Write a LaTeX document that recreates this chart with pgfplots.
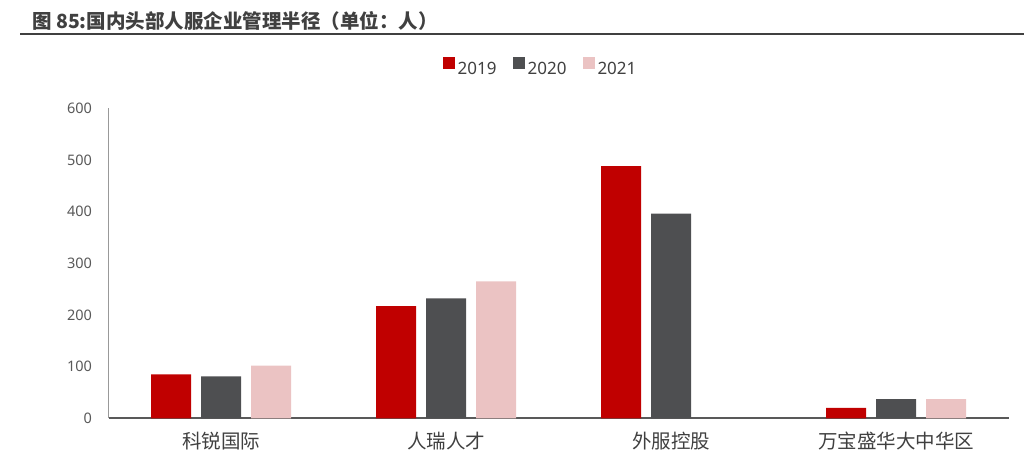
\documentclass[border=0pt]{standalone}
\usepackage{pgfplots}
\pgfplotsset{compat=1.18}
\usepackage{fontspec}
\setmainfont{Noto Sans}
\newfontfamily\cjk{Noto Sans CJK SC}
\definecolor{cR}{HTML}{C00000}
\definecolor{cG}{HTML}{4E4F51}
\definecolor{cP}{HTML}{EBC3C3}
\definecolor{txt}{HTML}{404040}
\definecolor{tickc}{HTML}{595959}
\begin{document}
\begin{tikzpicture}
\path[use as bounding box] (0,0) rectangle (1024pt,468pt);
\node[anchor=base west, font=\cjk\bfseries\fontsize{19.5}{22}\selectfont, text=txt, inner sep=0pt] at (32pt,439pt) {图 85:国内头部人服企业管理半径（单位：人）};
\draw[txt, line width=2pt] (20pt,434pt) -- (1024pt,434pt);
\begin{axis}[
 at={(108.5pt,49.7pt)}, anchor=south west,
 scale only axis, width=900pt, height=310pt,
 ybar=10pt, bar width=40pt,
 xmin=-0.5, xmax=3.5, ymin=0, ymax=600,
 xtick={0,1,2,3}, xticklabels={科锐国际,人瑞人才,外服控股,万宝盛华大中华区},
 ytick={0,100,...,600},
 axis x line=bottom, axis y line=left,
 x axis line style={-, draw=tickc, line width=2pt},
 y axis line style={-, draw=gray!80, line width=1pt},
 major tick length=0pt,
 tick style={draw=none},
 xticklabel style={font=\cjk\fontsize{19.5}{22}\selectfont, text=txt, yshift=-10pt},
 yticklabel style={font=\fontsize{14.5}{17}\selectfont, text=tickc, xshift=-13pt},
 /pgf/number format/assume math mode=true,
 legend style={at={(0.4806,1.13)}, anchor=center, draw=none, fill=none, legend columns=3, font=\fontsize{17}{20}\selectfont, text=txt, /tikz/every even column/.append style={column sep=13pt}, inner sep=0pt, nodes={inner sep=3pt}},
 legend image code/.code={\fill[#1,draw=none] (0pt,-0.5pt) rectangle (12pt,11.5pt);},
]
\addplot[fill=cR, draw=none] coordinates {(0,85) (1,217) (2,488) (3,20)};
\addplot[fill=cG, draw=none] coordinates {(0,81) (1,232) (2,396) (3,37)};
\addplot[fill=cP, draw=none] coordinates {(0,102) (1,265) (3,37)};
\legend{2019,2020,2021}
\end{axis}
\end{tikzpicture}
\end{document}
